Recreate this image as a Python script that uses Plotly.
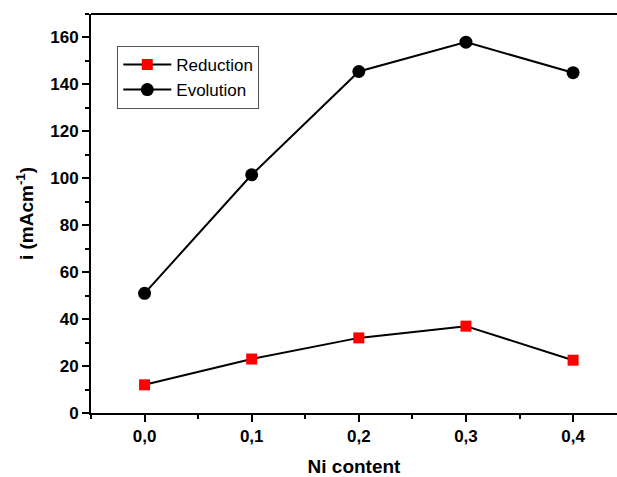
import plotly.graph_objects as go

ni_content = [0.0, 0.1, 0.2, 0.3, 0.4]
reduction = [12, 23, 32, 37, 22.5]
evolution = [51, 101.5, 145.5, 158, 145]

font_family = "Liberation Sans, Arial, sans-serif"

fig = go.Figure()
fig.add_trace(go.Scatter(
    x=ni_content, y=reduction, name="Reduction", mode="lines+markers",
    line=dict(color="black", width=2),
    marker=dict(symbol="square", color="#ff0000", size=11),
))
fig.add_trace(go.Scatter(
    x=ni_content, y=evolution, name="Evolution", mode="lines+markers",
    line=dict(color="black", width=2),
    marker=dict(symbol="circle", color="black", size=13),
))

fig.update_layout(
    width=617, height=477,
    margin=dict(l=91, r=0, t=14, b=64),
    paper_bgcolor="white", plot_bgcolor="white",
    separators=",.",
    font=dict(family=font_family, color="black"),
    showlegend=True,
    legend=dict(
        x=0.05, y=0.92, xanchor="left", yanchor="top",
        bordercolor="#555555", borderwidth=1, bgcolor="white",
        font=dict(size=17, family=font_family),
        itemwidth=48, tracegroupgap=0,
    ),
    xaxis=dict(
        range=[-0.05, 0.441], tickvals=ni_content, tickformat=".1f",
        showgrid=False, zeroline=False, showline=True, linecolor="black", linewidth=2,
        ticks="outside", ticklen=7, tickwidth=2, tickcolor="black",
        minor=dict(dtick=0.05, tick0=0.05, ticks="outside", ticklen=4, tickwidth=2, tickcolor="black"),
        tickfont=dict(size=17, family=font_family, weight="bold"),
        title=dict(text="<b>Ni content</b>", font=dict(size=19, family=font_family), standoff=14),
    ),
    yaxis=dict(
        range=[0, 170], dtick=20,
        showgrid=False, zeroline=False, showline=True, linecolor="black", linewidth=2,
        ticks="outside", ticklen=7, tickwidth=2, tickcolor="black",
        minor=dict(dtick=10, ticks="outside", ticklen=4, tickwidth=2, tickcolor="black"),
        tickfont=dict(size=17, family=font_family, weight="bold"),
        title=dict(text="<b>i (mAcm<sup>-1</sup>)</b>", font=dict(size=19, family=font_family), standoff=12),
    ),
    shapes=[dict(type="line", xref="paper", yref="paper", x0=0, x1=1, y0=1, y1=1,
                 line=dict(color="black", width=2))],
)

fig.write_html("out.html")
